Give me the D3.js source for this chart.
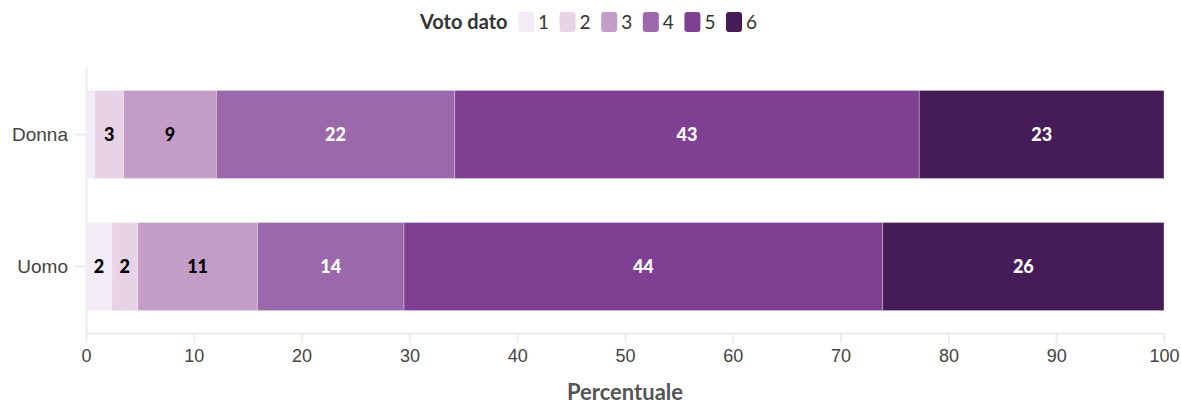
<!DOCTYPE html>
<html><head><meta charset="utf-8">
<script src="https://cdn.jsdelivr.net/npm/d3@7"></script>
<style>
body{margin:0;background:#fff;}
svg{display:block;font-family:"Source Sans Pro",Lato,"Noto Sans",sans-serif;}
</style></head>
<body><svg id="c" width="1181" height="408"></svg>
<script>
const categories = ["Donna", "Uomo"];
const voti = ["1", "2", "3", "4", "5", "6"];
const donna = [0.8, 2.7, 8.6, 22.1, 43.1, 22.7];
const uomo = [2.4, 2.4, 11.1, 13.6, 44.4, 26.1];
const xTicks = [0, 10, 20, 30, 40, 50, 60, 70, 80, 90, 100];
const colors = ["#f3ebf5", "#e8d2e6", "#c49cc8", "#9b68ab", "#7f4094", "#451c57"];
const labelColors = ["#000", "#000", "#000", "#fff", "#fff", "#fff"];

const rows = [donna, uomo];
const svg = d3.select("#c");
const x = d3.scaleLinear().domain([0, 100]).range([86, 1164]);
const y = d3.scaleBand().domain(categories).range([68, 333]).paddingInner(1/3).paddingOuter(0.17);
const color = d3.scaleOrdinal().domain(voti).range(colors);

// axes
const gx = svg.append("g").attr("transform", "translate(0,333)")
  .call(d3.axisBottom(x).tickValues(xTicks).tickSize(10).tickSizeOuter(0).tickPadding(6));
gx.select(".domain").attr("stroke", "#ebebeb").attr("stroke-width", 2);
gx.selectAll(".tick line").attr("stroke", "#ebebeb").attr("stroke-width", 2);
gx.selectAll(".tick text").attr("fill", "#444").attr("font-size", 18).attr("font-family", "inherit");

const gy = svg.append("g").attr("transform", "translate(86,0)")
  .call(d3.axisLeft(y).tickSize(11).tickSizeOuter(0).tickPadding(7));
gy.select(".domain").attr("stroke", "#ebebeb").attr("stroke-width", 2);
gy.selectAll(".tick line").attr("stroke", "#ebebeb").attr("stroke-width", 2);
gy.selectAll(".tick text").attr("fill", "#444").attr("font-size", 19).attr("font-family", "inherit");

// bars
categories.forEach((cat, ri) => {
  const vals = rows[ri];
  let cum = 0;
  const segs = vals.map((v, i) => { const s = {i, x0: cum, x1: cum + v, v}; cum += v; return s; });
  const g = svg.append("g");
  g.selectAll("rect").data(segs).join("rect")
    .attr("x", d => x(d.x0)).attr("width", d => x(d.x1) - x(d.x0))
    .attr("y", y(cat)).attr("height", y.bandwidth())
    .attr("fill", d => color(voti[d.i]))
    .attr("stroke", "rgba(255,255,255,0.3)").attr("stroke-width", 1);
  g.selectAll("text").data(segs.filter(d => d.v >= 2)).join("text")
    .attr("x", d => (x(d.x0) + x(d.x1)) / 2)
    .attr("y", y(cat) + y.bandwidth() / 2)
    .attr("dy", "0.35em").attr("text-anchor", "middle")
    .attr("font-weight", 900).attr("font-size", 18)
    .attr("fill", d => labelColors[d.i])
    .text(d => Math.round(d.v));
});

// legend
const lg = svg.append("g");
lg.append("text").attr("x", 420).attr("y", 22).attr("dy", "0.35em")
  .attr("font-weight", 700).attr("font-size", 20).attr("fill", "#333").text("Voto dato");
voti.forEach((v, i) => {
  const lx = 518 + i * 41.6;
  lg.append("rect").attr("x", lx).attr("y", 12).attr("width", 16).attr("height", 20)
    .attr("rx", 3).attr("fill", color(v));
  lg.append("text").attr("x", lx + 20).attr("y", 22).attr("dy", "0.35em")
    .attr("font-size", 19).attr("fill", "#333").text(v);
});

// axis title
svg.append("text").attr("x", 625).attr("y", 393).attr("dy", "0.33em")
  .attr("text-anchor", "middle").attr("font-weight", 700).attr("font-size", 22)
  .attr("fill", "#555").text("Percentuale");
</script></body></html>
